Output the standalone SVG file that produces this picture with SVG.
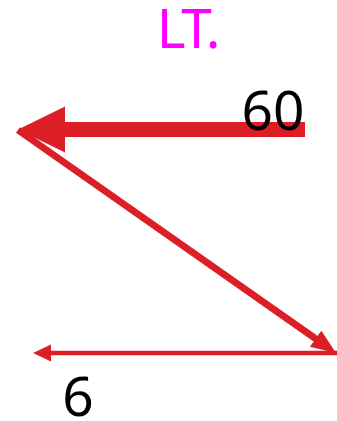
<svg xmlns="http://www.w3.org/2000/svg" width="337" height="421" viewBox="0 0 337 421">
<style>
.t{font-family:"Noto Sans","Open Sans",sans-serif;font-size:55px;text-anchor:middle}
.e{stroke:#dc1f26;fill:none}
.h{fill:#dc1f26}
</style>
<defs>
<marker id="mBig" markerUnits="userSpaceOnUse" viewBox="0 -24 48 48" markerWidth="48" markerHeight="48" refX="3" refY="0" orient="auto"><path class="h" d="M0,-23 L47,0 L0,23 z"/></marker>
<marker id="mMid" markerUnits="userSpaceOnUse" viewBox="0 -11 26 22" markerWidth="26" markerHeight="22" refX="3" refY="0" orient="auto"><path class="h" d="M0,-10 L25,0 L0,10 z"/></marker>
<marker id="mSmall" markerUnits="userSpaceOnUse" viewBox="0 -9 19 18" markerWidth="19" markerHeight="18" refX="2" refY="0" orient="auto"><path class="h" d="M0,-8.5 L18,0 L0,8.5 z"/></marker>
</defs>
<g id="connectors">
<line class="e" x1="18" y1="130" x2="318" y2="340.4" stroke-width="7" marker-end="url(#mMid)"/>
<line class="e" x1="305" y1="129.5" x2="62" y2="129.5" stroke-width="15" marker-end="url(#mBig)"/>
<line class="e" x1="337" y1="353" x2="49" y2="353" stroke-width="4.5" marker-end="url(#mSmall)"/>
</g>
<g id="title"><text class="t" x="187" y="48" fill="#ff00ff" letter-spacing="-3">LT.</text></g>
<g id="label60"><text class="t" x="273" y="130" fill="#000">60</text></g>
<g id="label6"><text class="t" x="78" y="416" fill="#000">6</text></g>
</svg>
